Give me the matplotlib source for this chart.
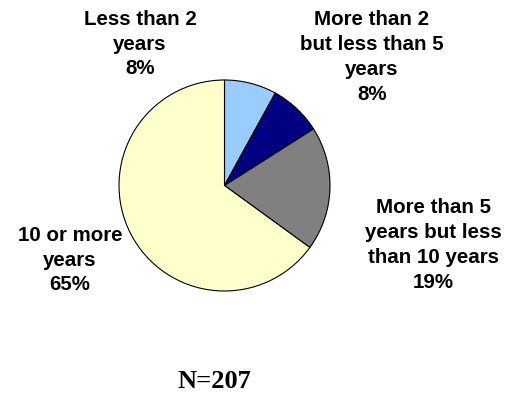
import matplotlib.pyplot as plt

# Years of experience breakdown
categories = ["Less than 2\nyears", "More than 2\nbut less than 5\nyears",
              "More than 5\nyears but less\nthan 10 years", "10 or more\nyears"]
shares = [8, 8, 19, 65]
colors = ["#99CCFF", "#000080", "#808080", "#FFFFCC"]
sample_size = 207

W, H = 515, 398
fig = plt.figure(figsize=(W / 100, H / 100), dpi=100)
fig.patch.set_facecolor("white")

# pie centre and radius in pixels
cx, cy, r = 224.5, 185.5, 105.5
ax = fig.add_axes([(cx - r) / W, 1 - (cy + r) / H, 2 * r / W, 2 * r / H])
ax.pie(shares, colors=colors, startangle=90, counterclock=False, radius=1,
       wedgeprops=dict(edgecolor="black", linewidth=0.8))
ax.set_xlim(-1, 1)
ax.set_ylim(-1, 1)
ax.axis("off")

# label positions (pixel centres of each block)
label_pos = [(140, 44), (372, 57), (433, 245), (70, 260)]
for cat, val, (x, y) in zip(categories, shares, label_pos):
    fig.text(x / W, 1 - y / H, f"{cat}\n{val}%", ha="center", va="center",
             fontsize=14.8, fontweight="bold", family="Liberation Sans",
             linespacing=1.38)

fig.text(214 / W, 1 - 382 / H, f"N={sample_size}", ha="center", va="center",
         fontsize=19, fontweight="bold", family="Liberation Serif")

fig.savefig("out.png", dpi=100)
